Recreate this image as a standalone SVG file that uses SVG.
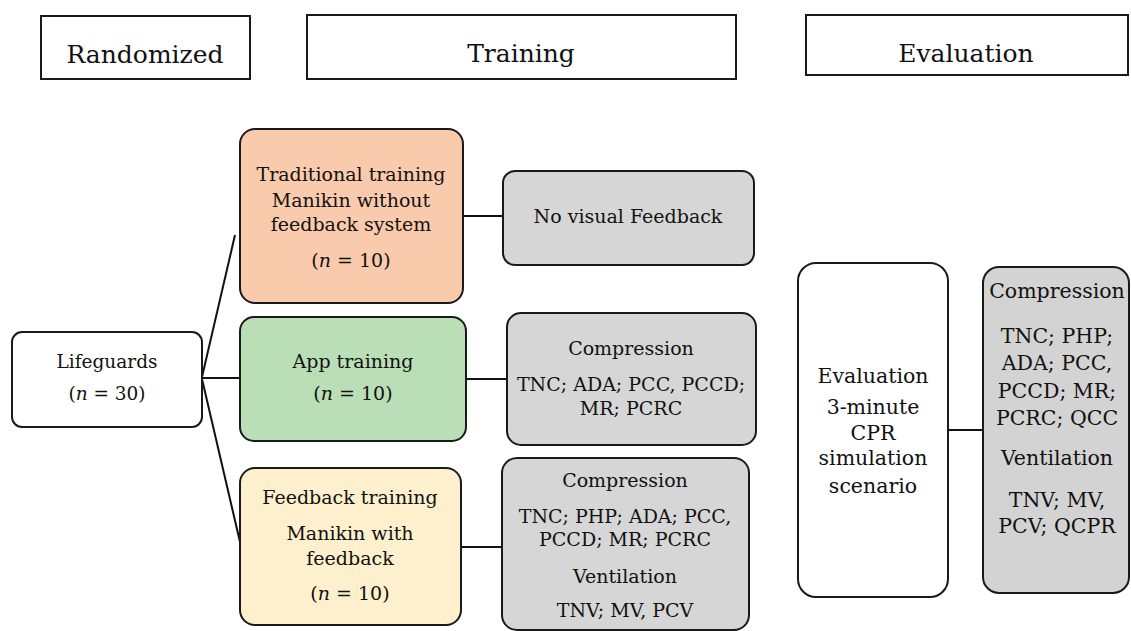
<svg xmlns="http://www.w3.org/2000/svg" width="1131" height="631" viewBox="0 0 1131 631">
<style>
text{font-family:"DejaVu Serif","Liberation Serif",serif;fill:#111;text-anchor:middle}
.h{font-size:25px}
.b{font-size:18.5px}
.s{font-size:19px}
.r{font-size:20.5px}
.box{stroke:#1a1a1a;stroke-width:2}
.hdr{fill:#fff;stroke:#1a1a1a;stroke-width:2}
.ln{stroke:#111;stroke-width:2;fill:none}
.i{font-style:italic}
</style>
<rect width="1131" height="631" fill="#fff"/>
<g id="hdr-randomized"><rect class="hdr" x="41" y="16" width="209" height="63"/><text class="h" x="145" y="63">Randomized</text></g>
<g id="hdr-training"><rect class="hdr" x="307" y="15" width="429" height="64"/><text class="h" x="521" y="62">Training</text></g>
<g id="hdr-evaluation"><rect class="hdr" x="806" y="15" width="322" height="60"/><text class="h" x="966" y="62">Evaluation</text></g>

<g id="connectors">
<line class="ln" x1="202" y1="377" x2="235" y2="235"/>
<line class="ln" x1="202" y1="378" x2="240" y2="378"/>
<line class="ln" x1="202" y1="379" x2="240" y2="542"/>
<line class="ln" x1="463" y1="216" x2="503" y2="216"/>
<line class="ln" x1="466" y1="379" x2="507" y2="379"/>
<line class="ln" x1="461" y1="547" x2="502" y2="547"/>
<line class="ln" x1="948" y1="430" x2="983" y2="430"/>
</g>

<g id="lifeguards"><rect class="box" x="12" y="332" width="190" height="95" rx="10" fill="#fff"/>
<text class="b" x="107" y="368">Lifeguards</text>
<text class="b" x="107" y="400">(<tspan class="i">n</tspan> = 30)</text></g>

<g id="traditional"><rect class="box" x="240" y="129" width="223" height="174" rx="15" fill="#F9CBAC"/>
<text class="s" x="351" y="181">Traditional training</text>
<text class="s" x="351" y="207">Manikin without</text>
<text class="s" x="351" y="231">feedback system</text>
<text class="s" x="351" y="267">(<tspan class="i">n</tspan> = 10)</text></g>

<g id="app"><rect class="box" x="240" y="317" width="226" height="124" rx="14" fill="#BADFB6"/>
<text class="s" x="353" y="368">App training</text>
<text class="s" x="353" y="400">(<tspan class="i">n</tspan> = 10)</text></g>

<g id="feedback"><rect class="box" x="240" y="468" width="221" height="157" rx="15" fill="#FEF0CD"/>
<text class="s" x="350" y="504">Feedback training</text>
<text class="s" x="350" y="540">Manikin with</text>
<text class="s" x="350" y="565">feedback</text>
<text class="s" x="350" y="600">(<tspan class="i">n</tspan> = 10)</text></g>

<g id="no-visual"><rect class="box" x="503" y="171" width="251" height="94" rx="12" fill="#D6D6D6"/>
<text class="s" x="628" y="223">No visual Feedback</text></g>

<g id="app-metrics"><rect class="box" x="507" y="313" width="249" height="132" rx="14" fill="#D6D6D6"/>
<text class="s" x="631" y="355">Compression</text>
<text class="s" x="631" y="391">TNC; ADA; PCC, PCCD;</text>
<text class="s" x="631" y="415">MR; PCRC</text></g>

<g id="feedback-metrics"><rect class="box" x="502" y="458" width="247" height="172" rx="15" fill="#D6D6D6"/>
<text class="s" x="625" y="487">Compression</text>
<text class="s" x="625" y="523">TNC; PHP; ADA; PCC,</text>
<text class="s" x="625" y="546">PCCD; MR; PCRC</text>
<text class="s" x="625" y="583">Ventilation</text>
<text class="s" x="625" y="617">TNV; MV, PCV</text></g>

<g id="evaluation"><rect class="box" x="798" y="263" width="150" height="334" rx="18" fill="#fff"/>
<text class="r" x="873" y="383">Evaluation</text>
<text class="r" x="873" y="414">3-minute</text>
<text class="r" x="873" y="440">CPR</text>
<text class="r" x="873" y="465">simulation</text>
<text class="r" x="873" y="493">scenario</text></g>

<g id="eval-metrics"><rect class="box" x="983" y="267" width="146" height="326" rx="16" fill="#D3D3D3"/>
<text class="r" x="1057" y="298">Compression</text>
<text class="r" x="1057" y="343">TNC; PHP;</text>
<text class="r" x="1057" y="370">ADA; PCC,</text>
<text class="r" x="1057" y="398">PCCD; MR;</text>
<text class="r" x="1057" y="425">PCRC; QCC</text>
<text class="r" x="1057" y="465">Ventilation</text>
<text class="r" x="1057" y="507">TNV; MV,</text>
<text class="r" x="1057" y="533">PCV; QCPR</text></g>
</svg>
